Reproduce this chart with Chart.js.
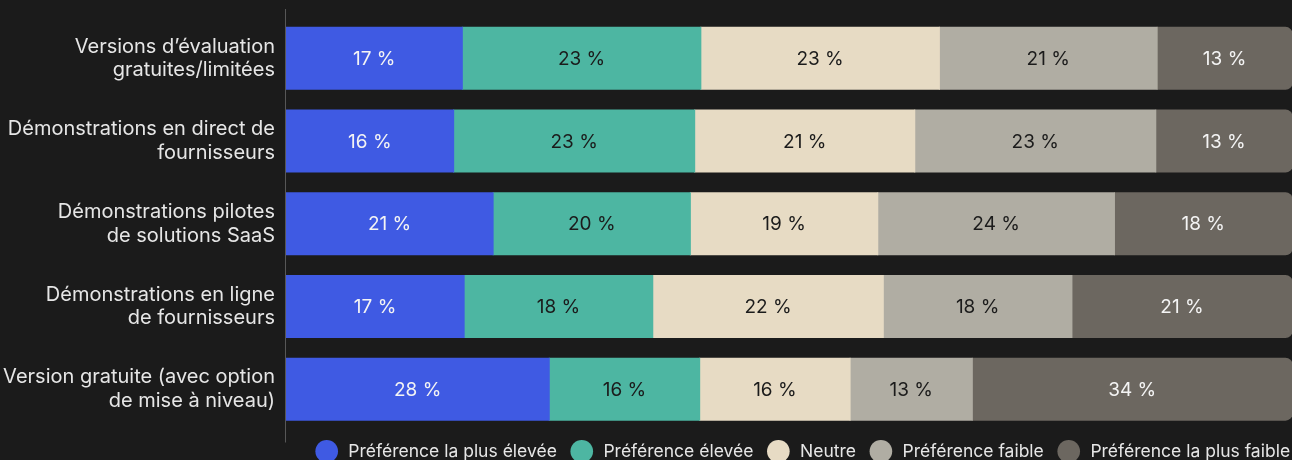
<!DOCTYPE html>
<html lang="fr">
<head>
<meta charset="utf-8">
<title>Préférences</title>
<script src="https://cdn.jsdelivr.net/npm/chart.js@4.4.1/dist/chart.umd.min.js"></script>
<style>
  html, body { margin: 0; padding: 0; background: #1b1b1b; overflow: hidden; }
  #wrap { position: relative; width: 1292px; height: 470px; }
</style>
</head>
<body>
<div id="wrap"><canvas id="chart"></canvas></div>
<script>
// ── Data ───────────────────────────────────────────────────────
const CATEGORIES = [
    ['Versions d’évaluation', 'gratuites/limitées'],
    ['Démonstrations en direct de', 'fournisseurs'],
    ['Démonstrations pilotes', 'de solutions SaaS'],
    ['Démonstrations en ligne', 'de fournisseurs'],
    ['Version gratuite (avec option', 'de mise à niveau)'],
];

const SERIES_NAMES = [
    'Préférence la plus élevée',
    'Préférence élevée',
    'Neutre',
    'Préférence faible',
    'Préférence la plus faible',
];

const PREF_HIGHEST = [17, 16, 21, 17, 28];
const PREF_HIGH    = [23, 23, 20, 18, 16];
const NEUTRAL      = [23, 21, 19, 22, 16];
const PREF_LOW     = [21, 23, 24, 18, 13];
const PREF_LOWEST  = [13, 13, 18, 21, 34];

const SERIES = [PREF_HIGHEST, PREF_HIGH, NEUTRAL, PREF_LOW, PREF_LOWEST];

// ── Styles ─────────────────────────────────────────────────────
const COLORS      = ['#3f5ae3', '#4db6a2', '#e7dbc4', '#b0ada3', '#6c6760'];
const TEXT_COLORS = ['#f4f4f4', '#1b1b1b', '#1b1b1b', '#1b1b1b', '#f4f4f4'];

Chart.defaults.font.family = 'Inter, sans-serif';
Chart.defaults.color = '#e6e6e6';

// each row fills the full width: share of the row total
const rowTotals = CATEGORIES.map((_, j) => SERIES.reduce((s, arr) => s + arr[j], 0));

const datasets = SERIES.map((arr, i) => ({
    label: SERIES_NAMES[i],
    data: arr.map((v, j) => v / rowTotals[j] * 100),
    backgroundColor: COLORS[i],
    borderWidth: 0,
    borderSkipped: false,
    inflateAmount: 0.5,
    borderRadius: i === SERIES.length - 1
        ? { topLeft: 0, bottomLeft: 0, topRight: 7, bottomRight: 7 }
        : 0,
    categoryPercentage: 0.75,
    barPercentage: 1,
}));

// value labels inside each segment
const valueLabels = {
    id: 'valueLabels',
    afterDatasetsDraw(chart) {
        const ctx = chart.ctx;
        ctx.save();
        ctx.font = '19px Inter, sans-serif';
        ctx.textAlign = 'center';
        ctx.textBaseline = 'middle';
        chart.data.datasets.forEach((ds, i) => {
            const meta = chart.getDatasetMeta(i);
            meta.data.forEach((bar, j) => {
                const { x, base, y } = bar.getProps(['x', 'base', 'y'], true);
                ctx.fillStyle = TEXT_COLORS[i];
                ctx.fillText(SERIES[i][j] + ' %', (x + base) / 2, y + 1);
            });
        });
        ctx.restore();
    },
};

// vertical axis line, a bit longer than the plot area
const axisLine = {
    id: 'axisLine',
    beforeDatasetsDraw(chart) {
        const { ctx, chartArea } = chart;
        ctx.save();
        ctx.strokeStyle = '#575757';
        ctx.lineWidth = 1;
        ctx.beginPath();
        ctx.moveTo(chartArea.left - 0.5, chartArea.top - 8);
        ctx.lineTo(chartArea.left - 0.5, chartArea.bottom + 12);
        ctx.stroke();
        ctx.restore();
    },
};

// push legend to the right edge
const legendShift = {
    id: 'legendShift',
    afterLayout(chart) {
        if (!chart.legend) return;
        chart.legend.left += 15;
        chart.legend.right += 15;
    },
};

new Chart(document.getElementById('chart').getContext('2d'), {
    type: 'bar',
    data: { labels: CATEGORIES, datasets },
    plugins: [axisLine, valueLabels, legendShift],
    options: {
        indexAxis: 'y',
        responsive: true,
        maintainAspectRatio: false,
        animation: false,
        layout: { padding: { top: 17, left: 0, right: 0, bottom: 0 } },
        plugins: {
            tooltip: { enabled: false },
            legend: {
                position: 'bottom',
                align: 'end',
                labels: {
                    usePointStyle: true,
                    pointStyle: 'circle',
                    boxWidth: 16,
                    boxHeight: 16,
                    padding: 12,
                    color: '#e6e6e6',
                    font: { size: 17.5 },
                    generateLabels(chart) {
                        const items = Chart.defaults.plugins.legend.labels.generateLabels(chart);
                        items.forEach(it => { it.text = ' ' + it.text + ' '; it.lineWidth = 0; });
                        return items;
                    },
                },
            },
        },
        scales: {
            x: {
                stacked: true,
                display: false,
                min: 0,
                max: 100,
            },
            y: {
                stacked: true,
                grid: { display: false, drawTicks: false },
                border: { display: false },
                ticks: {
                    color: '#e6e6e6',
                    padding: 11,
                    font: { size: 20, lineHeight: 1.18 },
                },
                afterFit: scale => {
                    scale.width = 286;
                    scale.paddingTop = 0;
                    scale.paddingBottom = 0;
                },
            },
        },
    },
});
</script>
</body>
</html>
